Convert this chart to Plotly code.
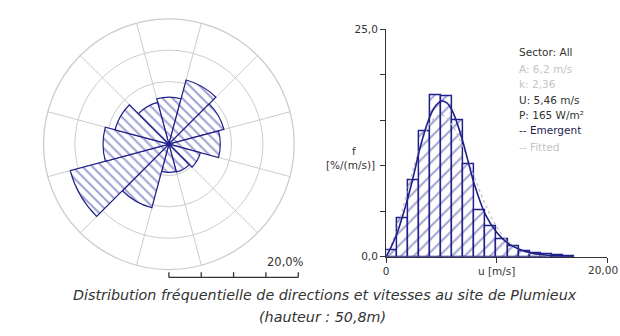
import plotly.graph_objects as go

# ---------------- data ----------------
sector_dirs = [0, 30, 60, 90, 120, 150, 180, 210, 240, 270, 300, 330]
sector_freq = [7.5, 10.6, 9.1, 8.2, 5.2, 4.6, 4.5, 10.5, 16.3, 10.5, 8.9, 6.9]

bin_centers = [0.5, 1.5, 2.5, 3.5, 4.5, 5.5, 6.5, 7.5, 8.5, 9.5,
               10.5, 11.5, 12.5, 13.5, 14.5, 15.5, 16.5]
bin_freq = [0.7, 4.2, 8.4, 13.8, 17.7, 17.6, 15.0, 10.2, 5.1, 3.35,
            1.95, 1.15, 0.65, 0.35, 0.25, 0.12, 0.1]

emergent_u = [0, 0.5, 1, 1.5, 2, 2.5, 3, 3.5, 4, 4.5, 5, 5.5, 6, 6.5, 7, 7.5, 8, 9, 10, 11, 12, 13, 14, 15, 16, 17]
emergent_f = [0, 1.2, 2.6, 4.5, 6.6, 9.0, 11.6, 13.8, 15.5, 16.6, 17.1, 16.9, 16.0, 14.4, 12.4, 10.1, 7.9, 4.6, 2.7, 1.5, 0.85, 0.45, 0.25, 0.14, 0.08, 0.04]

fitted_u = [0, 1, 2, 3, 4, 5, 6, 7, 8, 9, 10, 11, 12, 13, 14, 15]
fitted_f = [0, 3.1, 7.6, 11.8, 14.7, 15.6, 14.4, 11.9, 8.7, 5.7, 3.3, 1.7, 0.8, 0.34, 0.13, 0.05]

y_tickvals = [0, 5, 10, 15, 20, 25]
y_ticktext = ["0,0", "", "", "", "", "25,0"]
x_tickvals = [0, 10, 20]
x_ticktext = ["0", "u [m/s]", ""]
x_max_label = "20,00"

info_lines = ["Sector: All", "A: 6,2 m/s", "k: 2,36", "U: 5,46 m/s",
              "P: 165 W/m²", "-- Emergent", "-- Fitted"]
caption_1 = "Distribution fréquentielle de directions et vitesses au site de Plumieux"
caption_2 = "(hauteur : 50,8m)"

# ---------------- style ----------------
W, H = 620, 336
NAVY = "#20208a"
HATCH = "#4646a6"
GRID = "#cccccc"
DARK = "#333333"
LIGHT = "#c4c4c4"
FONT = "DejaVu Sans"

def px(x):
    return x / W

def py(y):
    return 1 - y / H

fig = go.Figure()

# wind rose
fig.add_trace(go.Barpolar(
    r=sector_freq, theta=sector_dirs, width=[30] * len(sector_dirs),
    marker=dict(color="white", line=dict(color=NAVY, width=1.2),
                pattern=dict(shape="\\", fgcolor=HATCH, bgcolor="white",
                             size=7, solidity=0.3)),
    showlegend=False, hoverinfo="skip",
))

# histogram
fig.add_trace(go.Bar(
    x=bin_centers, y=bin_freq, width=1, xaxis="x", yaxis="y",
    marker=dict(color="white", line=dict(color=NAVY, width=1.5),
                pattern=dict(shape="/", fgcolor=HATCH, bgcolor="white",
                             size=9, solidity=0.22)),
    showlegend=False, hoverinfo="skip",
))
fig.add_trace(go.Scatter(
    x=fitted_u, y=fitted_f, mode="lines", line=dict(color="#bdbdbd", width=1.2, shape="spline", dash="dot"),
    xaxis="x", yaxis="y", showlegend=False, hoverinfo="skip"))
fig.add_trace(go.Scatter(
    x=emergent_u, y=emergent_f, mode="lines", line=dict(color=NAVY, width=1.6, shape="spline"),
    xaxis="x", yaxis="y", showlegend=False, hoverinfo="skip"))

# rose geometry
cx, cy, R = 166.7, 143.3, 130
rmax = 20

fig.update_layout(
    width=W, height=H, margin=dict(l=0, r=0, t=0, b=0),
    paper_bgcolor="white", plot_bgcolor="white",
    font=dict(family=FONT, size=10.5, color=DARK),
    bargap=0,
    polar=dict(
        domain=dict(x=[px(cx - R), px(cx + R)], y=[py(cy + R), py(cy - R)]),
        bgcolor="white",
        radialaxis=dict(range=[0, rmax], tickvals=[5, 10, 15, 20], showticklabels=False,
                        ticks="", showline=False, gridcolor=GRID, gridwidth=1.3),
        angularaxis=dict(direction="clockwise", rotation=90,
                         tickvals=[15 + 30 * i for i in range(12)],
                         showticklabels=False, ticks="",
                         gridcolor=GRID, gridwidth=1.3,
                         showline=True, linecolor=GRID, linewidth=1.3),
    ),
    xaxis=dict(domain=[px(385), px(607)], range=[0, 20], tickvals=x_tickvals, ticktext=x_ticktext,
               ticks="outside", ticklen=5, tickcolor=DARK, showline=True, linecolor=DARK,
               linewidth=1.3, showgrid=False, zeroline=False, anchor="y",
               tickfont=dict(size=10.5, color=DARK)),
    yaxis=dict(domain=[py(260), py(24)], range=[0, 25], tickvals=y_tickvals, ticktext=y_ticktext,
               ticks="outside", ticklen=5, tickcolor=DARK, showline=True, linecolor=DARK,
               linewidth=1.3, showgrid=False, zeroline=False, anchor="x",
               tickfont=dict(size=10.5, color=DARK)),
)

# scale bar under the rose
bar_y = 281.5
shapes = [dict(type="line", xref="paper", yref="paper",
               x0=px(cx), x1=px(cx + R), y0=py(bar_y), y1=py(bar_y),
               line=dict(color=DARK, width=1.3))]
for k in range(5):
    xx = cx + R * (5 * k) / rmax
    shapes.append(dict(type="line", xref="paper", yref="paper",
                       x0=px(xx), x1=px(xx), y0=py(bar_y), y1=py(bar_y - 5.5),
                       line=dict(color=DARK, width=1.3)))
fig.update_layout(shapes=shapes)

ann = []
ann.append(dict(text="20,0%", x=px(304), y=py(265), xref="paper", yref="paper",
                xanchor="right", yanchor="middle", showarrow=False,
                font=dict(size=11.5, color=DARK)))
ann.append(dict(text=x_max_label, x=1.0, y=py(274), xref="paper", yref="paper",
                xanchor="right", yanchor="middle", showarrow=False,
                font=dict(size=10.5, color=DARK)))
ann.append(dict(text="f", x=px(353), y=py(150), xref="paper", yref="paper",
                xanchor="center", yanchor="middle", showarrow=False,
                font=dict(size=10.5, color=DARK)))
ann.append(dict(text="[%/(m/s)]", x=px(349), y=py(165), xref="paper", yref="paper",
                xanchor="center", yanchor="middle", showarrow=False,
                font=dict(size=10.5, color=DARK)))

info_colors = [DARK, LIGHT, LIGHT, DARK, DARK, "#1e1e50", LIGHT]
info_y = [48, 65, 81, 97, 113, 129, 146]
for t, c, yy in zip(info_lines, info_colors, info_y):
    ann.append(dict(text=t, x=px(517), y=py(yy), xref="paper", yref="paper",
                    xanchor="left", yanchor="middle", showarrow=False,
                    font=dict(size=10.5, color=c)))

ann.append(dict(text="<i>" + caption_1 + "</i>", x=px(324), y=py(300), xref="paper", yref="paper",
                xanchor="center", yanchor="middle", showarrow=False,
                font=dict(family="DejaVu Sans", size=14.3, color=DARK)))
ann.append(dict(text="<i>" + caption_2 + "</i>", x=px(321.5), y=py(322), xref="paper", yref="paper",
                xanchor="center", yanchor="middle", showarrow=False,
                font=dict(family="DejaVu Sans", size=14.3, color=DARK)))
fig.update_layout(annotations=ann)

fig.write_html("out.html")
